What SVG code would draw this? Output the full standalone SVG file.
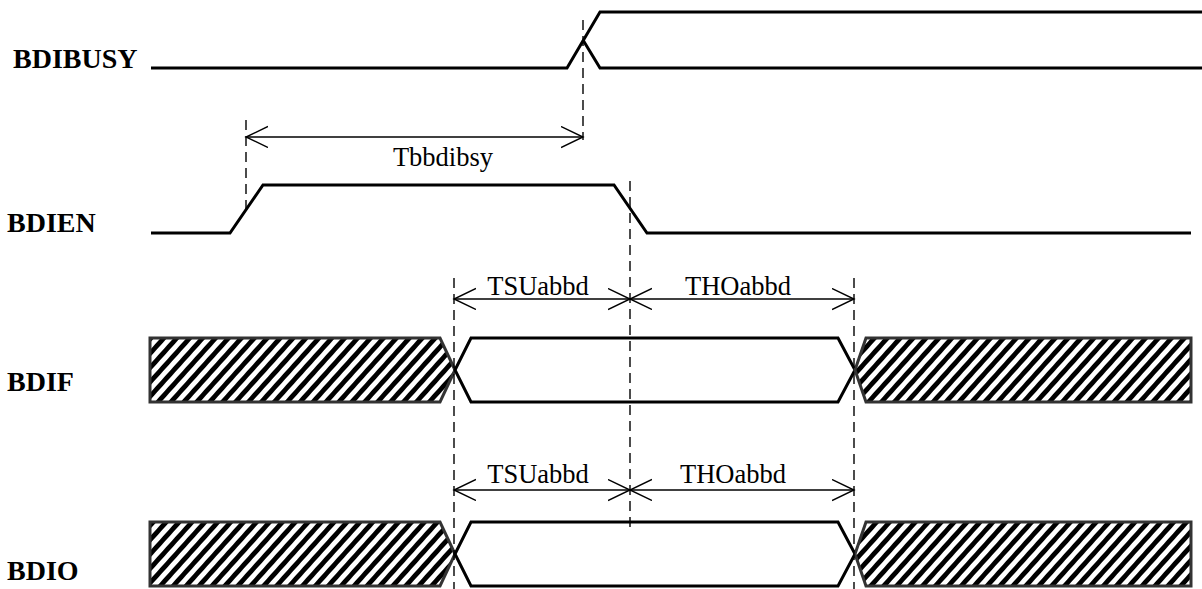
<svg xmlns="http://www.w3.org/2000/svg" width="1202" height="589" viewBox="0 0 1202 589">
<style>
.sig{fill:none;stroke:#000;stroke-width:3;stroke-linejoin:miter}
.hatch{fill:url(#hatch);stroke:#333;stroke-width:3}
.dash{fill:none;stroke:#000;stroke-width:1.4;stroke-dasharray:10,6}
.dim{fill:none;stroke:#000;stroke-width:1.4}
.lbl{font-family:"Liberation Serif","Times New Roman",serif;font-weight:bold;font-size:28px;fill:#000}
.t{font-family:"Liberation Serif","Times New Roman",serif;font-size:26.5px;fill:#000;text-anchor:middle}
</style>
<defs>
<pattern id="hatch" patternUnits="userSpaceOnUse" width="9.6" height="9.6" patternTransform="rotate(42)">
<rect width="9.6" height="9.6" fill="#fff"/>
<rect x="0" y="0" width="4.8" height="9.6" fill="#000"/>
</pattern>
<marker id="ah" markerWidth="24" markerHeight="24" refX="22" refY="11" orient="auto-start-reverse" markerUnits="userSpaceOnUse">
<path d="M0,0.5 L22,11 L0,21.5" fill="none" stroke="#000" stroke-width="1.4"/>
</marker>
</defs>

<g id="BDIBUSY">
<text class="lbl" x="13" y="68">BDIBUSY</text>
<path class="sig" d="M151,68 L567,68 L600,12 L1202,12"/>
<path class="sig" d="M583,40 L600,68 L1202,68"/>
</g>

<g id="BDIEN">
<text class="lbl" x="7" y="232">BDIEN</text>
<path class="sig" d="M151,233 L230,233 L263,185 L614,185 L647,233 L1191,233"/>
</g>

<g id="BDIF">
<text class="lbl" x="7" y="391">BDIF</text>
<polygon class="hatch" points="150,338 440,338 455,370 440,402 150,402"/>
<polygon class="sig" points="455,370 471,338 838,338 855,370 838,402 471,402"/>
<polygon class="hatch" points="855,370 866,338 1191,338 1191,402 866,402"/>
</g>

<g id="BDIO">
<text class="lbl" x="7" y="580">BDIO</text>
<polygon class="hatch" points="150,522 440,522 455,554 440,586 150,586"/>
<polygon class="sig" points="455,554 471,522 838,522 855,554 838,586 471,586"/>
<polygon class="hatch" points="855,554 866,522 1191,522 1191,586 866,586"/>
</g>

<g id="connectors">
<line class="dash" x1="583" y1="20" x2="583" y2="140"/>
<line class="dash" x1="246" y1="120" x2="246" y2="212"/>
<line class="dash" x1="630" y1="181" x2="630" y2="533"/>
<line class="dash" x1="454" y1="278" x2="454" y2="589"/>
<line class="dash" x1="854" y1="278" x2="854" y2="589"/>
<line class="dim" x1="246" y1="137" x2="583" y2="137" marker-start="url(#ah)" marker-end="url(#ah)"/>
<line class="dim" x1="454" y1="299" x2="630" y2="299" marker-start="url(#ah)" marker-end="url(#ah)"/>
<line class="dim" x1="630" y1="299" x2="854" y2="299" marker-start="url(#ah)" marker-end="url(#ah)"/>
<line class="dim" x1="454" y1="490" x2="630" y2="490" marker-start="url(#ah)" marker-end="url(#ah)"/>
<line class="dim" x1="630" y1="490" x2="854" y2="490" marker-start="url(#ah)" marker-end="url(#ah)"/>
</g>

<g id="labels">
<text class="t" x="443" y="166">Tbbdibsy</text>
<text class="t" x="538" y="295">TSUabbd</text>
<text class="t" x="738" y="295">THOabbd</text>
<text class="t" x="538" y="483">TSUabbd</text>
<text class="t" x="733" y="483">THOabbd</text>
</g>
</svg>
